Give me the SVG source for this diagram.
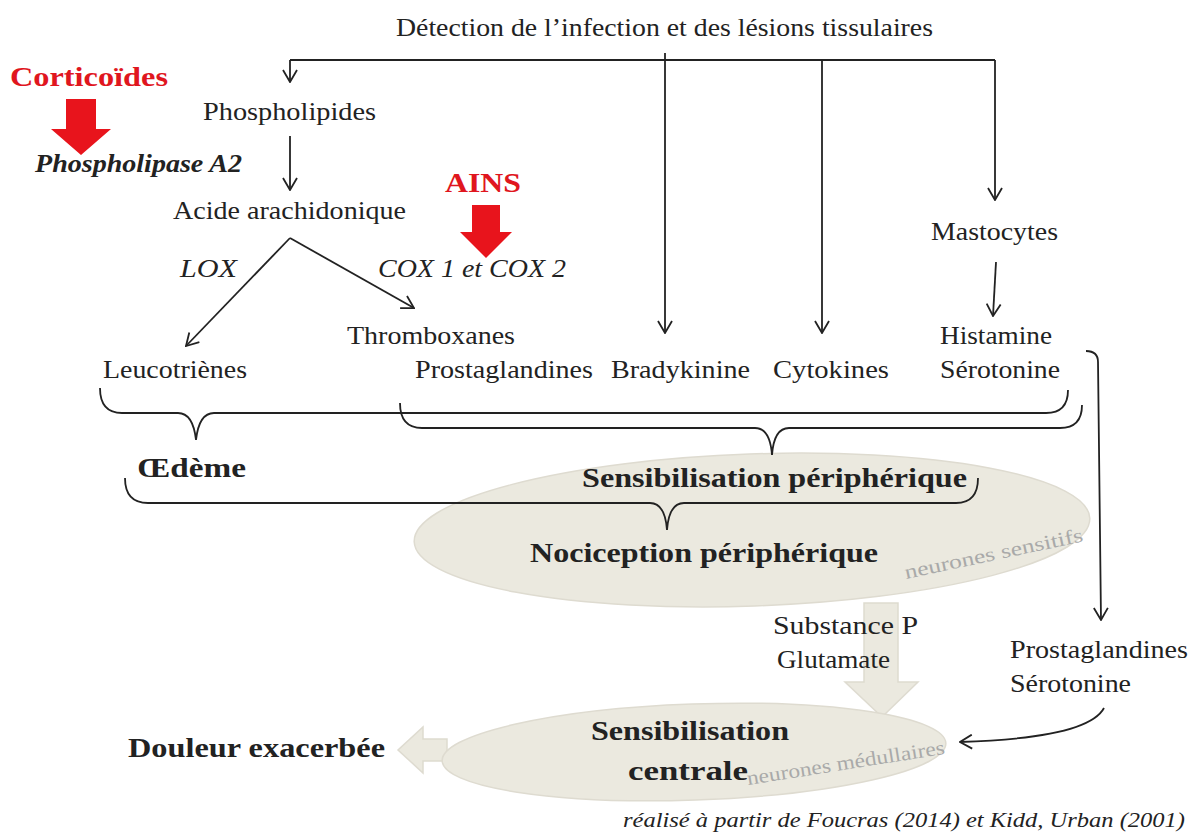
<svg xmlns="http://www.w3.org/2000/svg" width="1196" height="835" viewBox="0 0 1196 835">
<style>
text{font-family:'Liberation Serif','Times New Roman',Times,'Nimbus Roman','Noto Serif',serif}
.t{fill:#222;font-size:26px}
.b{font-weight:bold}
.i{font-style:italic}
.red{fill:#e0161e;font-weight:bold;font-size:28px}
.big{font-size:28px}
.g{fill:#a9a9a9;font-size:20px}
.ln{fill:none;stroke:#222;stroke-width:1.8}
.br{fill:none;stroke:#222;stroke-width:1.8}
.ell{fill:#ebe9df;stroke:#dedbd0;stroke-width:1.5}
</style>
<defs>
<marker id="a" viewBox="0 0 14 16" refX="13" refY="8" markerWidth="14" markerHeight="16" markerUnits="userSpaceOnUse" orient="auto">
<path d="M1,1 L13,8 L1,15" fill="none" stroke="#222" stroke-width="1.8"/>
</marker>
</defs>

<g id="ellipses">
<ellipse id="e-periph" class="ell" cx="752" cy="530" rx="338" ry="76" transform="rotate(-2 752 530)"/>
<path id="arrow-down" class="ell" d="M864,603 L898,603 L898,682 L918,682 L882,717 L845,682 L864,682 Z"/>
<path id="arrow-left" class="ell" d="M447,739 L423,739 L423,727 L398,750 L423,773 L423,761 L447,761 Z"/>
<ellipse id="e-central" class="ell" cx="694" cy="752" rx="252" ry="48" transform="rotate(-2 694 752)"/>
</g>

<g id="connectors">
<path class="ln" d="M290,60 L995,60"/>
<path class="ln" d="M290,60 L290,82" marker-end="url(#a)"/>
<path class="ln" d="M665,53 L665,333" marker-end="url(#a)"/>
<path class="ln" d="M822,60 L822,333" marker-end="url(#a)"/>
<path class="ln" d="M995,60 L995,200" marker-end="url(#a)"/>
<path class="ln" d="M290,136 L290,190" marker-end="url(#a)"/>
<path class="ln" d="M290,238 L186,346" marker-end="url(#a)"/>
<path class="ln" d="M290,238 L414,308" marker-end="url(#a)"/>
<path class="ln" d="M996,262 L993,316" marker-end="url(#a)"/>
<path class="ln" d="M1086,351 Q1098,351 1098,362 L1101,620" marker-end="url(#a)"/>
<path class="ln" d="M1104,708 Q1088,738 960,742" marker-end="url(#a)"/>
<path class="br" d="M100,388 Q100,413 122,413 L178,413 Q193,413 196,440 Q199,413 214,413 L1046,413 Q1068,413 1068,390"/>
<path class="br" d="M400,403 Q400,428 422,428 L755,428 Q770,428 772,455 Q774,428 789,428 L1060,428 Q1082,428 1082,405"/>
<path class="br" d="M125,478 Q125,503 148,503 L650,503 Q665,503 667,530 Q669,503 684,503 L956,503 Q978,503 978,478"/>
</g>

<g id="drugs">
<polygon fill="#e8141c" points="66,99 96,99 96,129 111,129 81,155 51,129 66,129"/>
<polygon fill="#e8141c" points="472,205 500,205 500,232 512,232 486,258 460,232 472,232"/>
</g>

<g id="labels" font-family="'Liberation Serif','Times New Roman',Times,serif">
<text class="t" x="396" y="36" textLength="537" lengthAdjust="spacingAndGlyphs">Détection de l’infection et des lésions tissulaires</text>
<text id="corticoides" class="t red" x="10" y="86" textLength="158" lengthAdjust="spacingAndGlyphs">Corticoïdes</text>
<text id="pla2" class="t b i" x="35" y="172" textLength="207" lengthAdjust="spacingAndGlyphs">Phospholipase A2</text>
<text id="phospholipides" class="t" x="203" y="120" textLength="173" lengthAdjust="spacingAndGlyphs">Phospholipides</text>
<text id="acide" class="t" x="173" y="219" textLength="233" lengthAdjust="spacingAndGlyphs">Acide arachidonique</text>
<text id="ains" class="t red" x="445" y="192" textLength="76" lengthAdjust="spacingAndGlyphs">AINS</text>
<text id="lox" class="t i" x="180" y="277" textLength="57" lengthAdjust="spacingAndGlyphs">LOX</text>
<text id="cox" class="t i" x="378" y="277" textLength="188" lengthAdjust="spacingAndGlyphs">COX 1 et COX 2</text>
<text id="thromboxanes" class="t" x="347" y="344" textLength="168" lengthAdjust="spacingAndGlyphs">Thromboxanes</text>
<text id="leucotrienes" class="t" x="103" y="378" textLength="144" lengthAdjust="spacingAndGlyphs">Leucotriènes</text>
<text id="prostaglandines" class="t" x="415" y="378" textLength="178" lengthAdjust="spacingAndGlyphs">Prostaglandines</text>
<text id="bradykinine" class="t" x="611" y="378" textLength="139" lengthAdjust="spacingAndGlyphs">Bradykinine</text>
<text id="cytokines" class="t" x="773" y="378" textLength="116" lengthAdjust="spacingAndGlyphs">Cytokines</text>
<text id="mastocytes" class="t" x="931" y="240" textLength="127" lengthAdjust="spacingAndGlyphs">Mastocytes</text>
<text id="histamine" class="t" x="940" y="344" textLength="112" lengthAdjust="spacingAndGlyphs">Histamine</text>
<text id="serotonine" class="t" x="940" y="378" textLength="120" lengthAdjust="spacingAndGlyphs">Sérotonine</text>
<text id="oedeme" class="t b big" x="137" y="477" textLength="109" lengthAdjust="spacingAndGlyphs">Œdème</text>
<text id="sensib-periph" class="t b big" x="582" y="487" textLength="385" lengthAdjust="spacingAndGlyphs">Sensibilisation périphérique</text>
<text id="nocicep" class="t b big" x="530" y="562" textLength="348" lengthAdjust="spacingAndGlyphs">Nociception périphérique</text>
<text class="g" transform="translate(906,579) rotate(-12)" textLength="182" lengthAdjust="spacingAndGlyphs">neurones sensitifs</text>
<text id="substance" class="t" x="773" y="634" textLength="145" lengthAdjust="spacingAndGlyphs">Substance P</text>
<text id="glutamate" class="t" x="777" y="668" textLength="113" lengthAdjust="spacingAndGlyphs">Glutamate</text>
<text id="prosta2" class="t" x="1010" y="658" textLength="178" lengthAdjust="spacingAndGlyphs">Prostaglandines</text>
<text id="sero2" class="t" x="1010" y="692" textLength="121" lengthAdjust="spacingAndGlyphs">Sérotonine</text>
<text id="douleur" class="t b big" x="128" y="757" textLength="257" lengthAdjust="spacingAndGlyphs">Douleur exacerbée</text>
<text id="sensib-c1" class="t b big" x="591" y="740" textLength="198" lengthAdjust="spacingAndGlyphs">Sensibilisation</text>
<text id="sensib-c2" class="t b big" x="628" y="780" textLength="120" lengthAdjust="spacingAndGlyphs">centrale</text>
<text class="g" transform="translate(748,785) rotate(-9)" textLength="200" lengthAdjust="spacingAndGlyphs">neurones médullaires</text>
<text id="caption" class="t i" style="font-size:22px" x="623" y="827" textLength="562" lengthAdjust="spacingAndGlyphs">réalisé  à partir de Foucras (2014) et Kidd, Urban (2001)</text>
</g>
</svg>
